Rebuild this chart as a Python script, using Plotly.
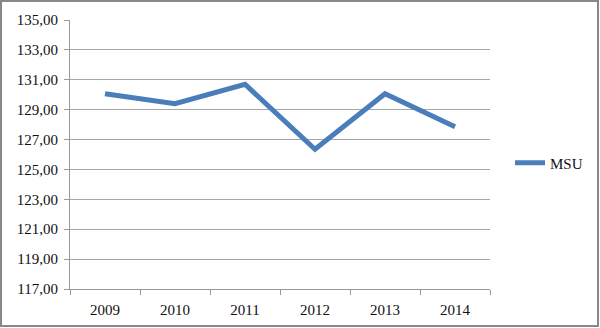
import plotly.graph_objects as go

years = ["2009", "2010", "2011", "2012", "2013", "2014"]
msu = [130.07, 129.40, 130.70, 126.35, 130.07, 127.86]
y_ticks = [117, 119, 121, 123, 125, 127, 129, 131, 133, 135]

L, R, T, B = 70, 110, 20, 39
W, H = 600, 328
pw, ph = W - L - R, H - T - B

fig = go.Figure()
fig.add_trace(go.Scatter(x=years, y=msu, mode="lines", name="MSU",
                         line=dict(color="#4a7ebb", width=5)))

fig.update_layout(
    width=W, height=H,
    margin=dict(l=L, r=R, t=T, b=B, autoexpand=False),
    paper_bgcolor="white", plot_bgcolor="white",
    separators=", ",
    font=dict(family="Liberation Serif", size=15, color="#111"),
    showlegend=True,
    legend=dict(x=(510 - L) / pw, y=(289 - 163) / ph, xanchor="left", yanchor="middle",
                font=dict(size=15), bgcolor="rgba(0,0,0,0)"),
    xaxis=dict(type="category", showgrid=False, showline=True, linecolor="#999",
               linewidth=1, ticks="outside", tickson="boundaries", ticklen=5,
               tickcolor="#999", range=[-0.5, 5.5], ticklabelstandoff=7,
               automargin=False),
    yaxis=dict(range=[117, 135], tickvals=y_ticks, tickformat=".2f",
               showgrid=True, gridcolor="#a6a6a6", gridwidth=1, showline=True,
               linecolor="#999", ticks="outside", ticklen=5, tickcolor="#999",
               zeroline=False, ticklabelstandoff=3, automargin=False),
    shapes=[dict(type="rect", xref="paper", yref="paper",
                 x0=(1 - L) / pw, x1=(598 - L) / pw,
                 y0=(H - B - 326) / ph, y1=(H - B - 1) / ph,
                 line=dict(color="#888", width=2), fillcolor="rgba(0,0,0,0)",
                 layer="below")],
)

fig.write_html("out.html")
